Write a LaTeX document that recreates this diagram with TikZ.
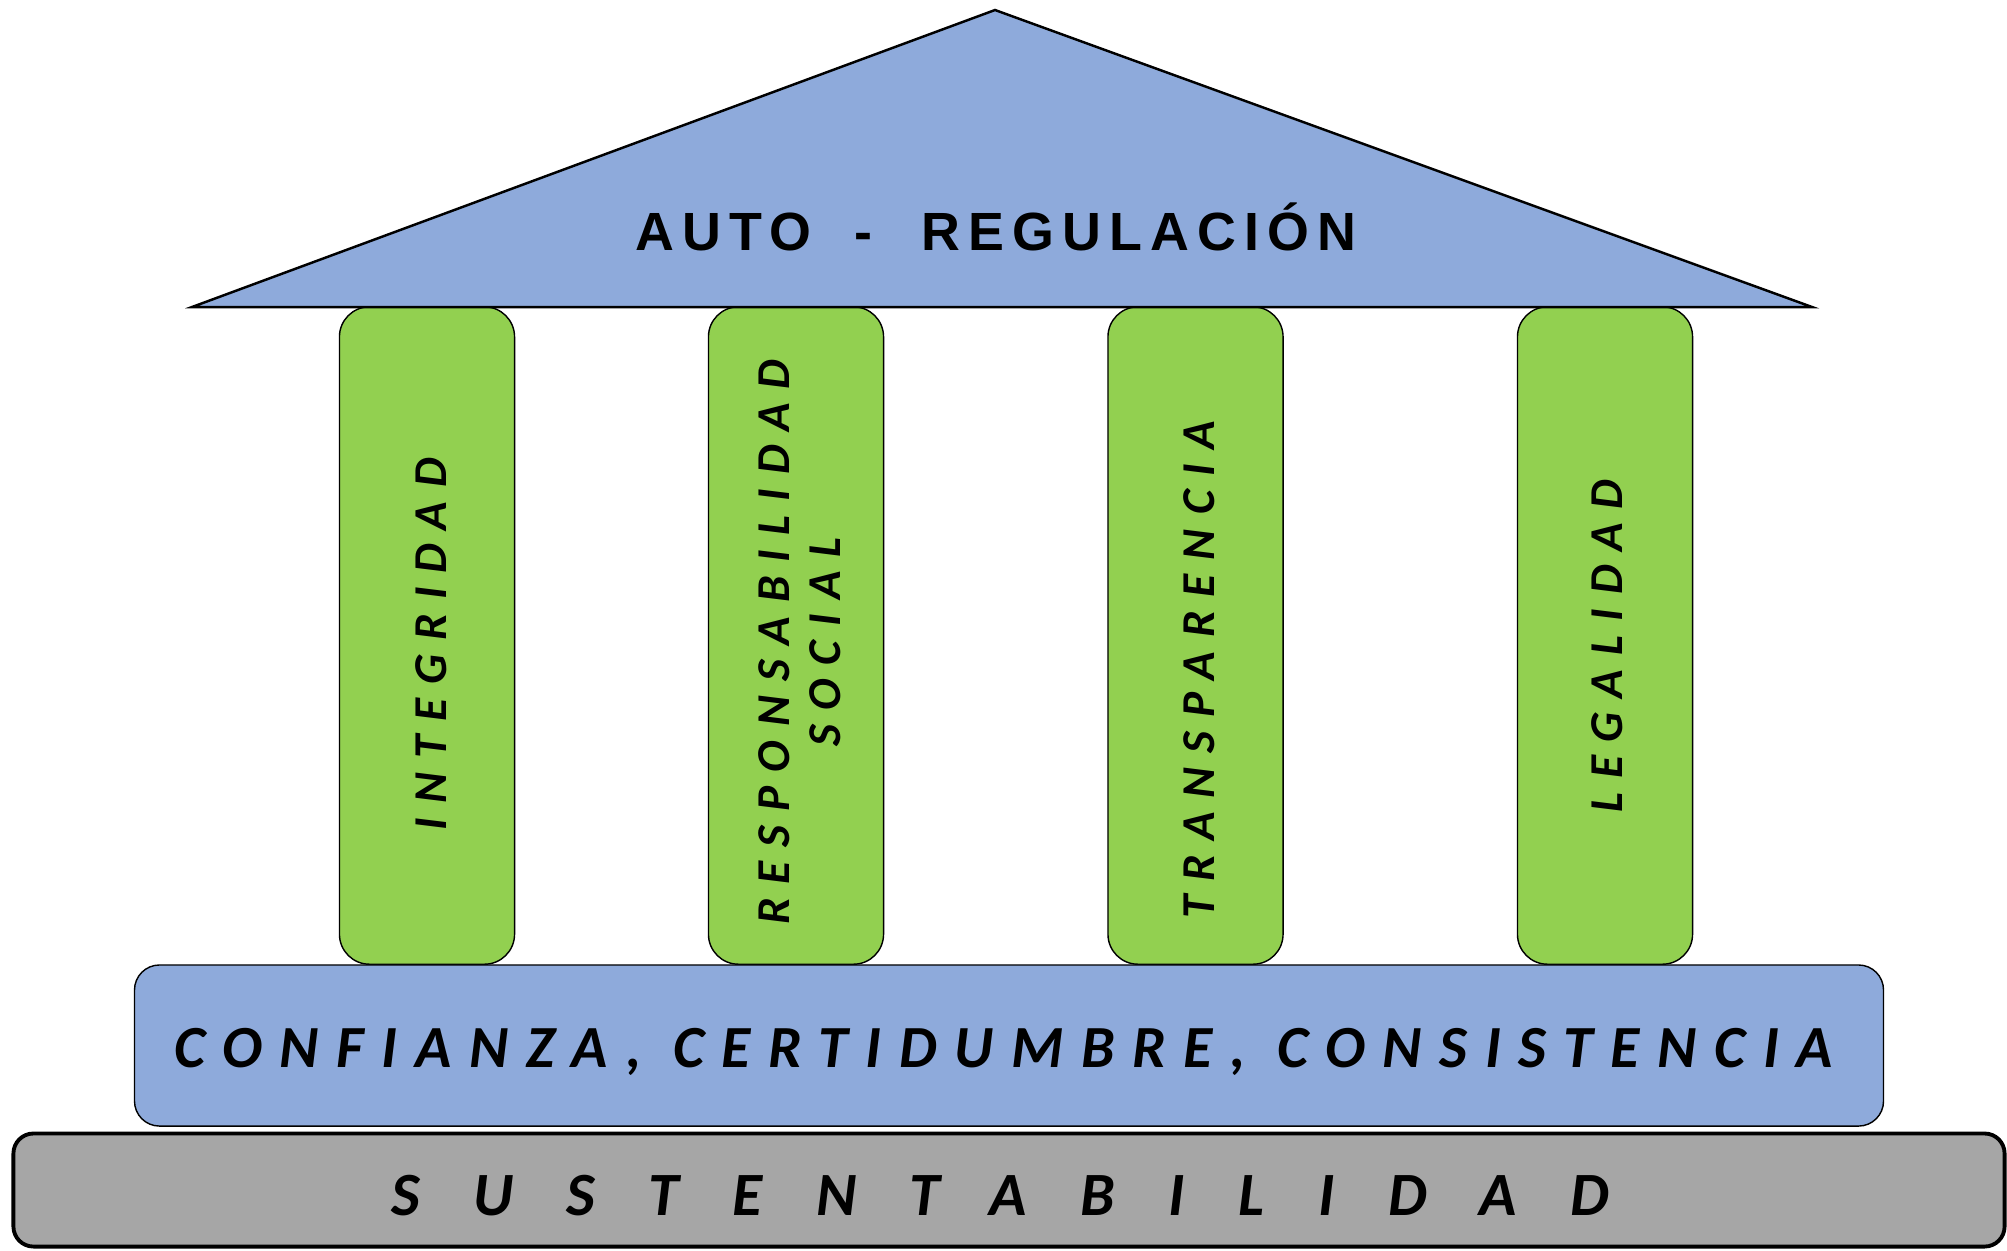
\documentclass[tikz,border=0pt]{standalone}
\usepackage{fontspec}
\setmainfont{Carlito}
\newfontfamily\rooffont{Liberation Sans}
\usepackage{xcolor}
\usepackage{tikz}
\usetikzlibrary{positioning}
\definecolor{roofblue}{HTML}{8EAADB}
\definecolor{pillargreen}{HTML}{92D050}
\definecolor{groundgray}{HTML}{A6A6A6}

\tikzset{
	pillar/.style={draw, line width=0.4pt, fill=pillargreen, rounded corners=0.3cm, minimum width=1.75cm, minimum height=6.57cm, inner sep=0pt},
	pillartext/.style={rotate=90, inner sep=0pt, align=center, font=\fontsize{13.4pt}{14.6pt}\selectfont\bfseries\itshape\addfontfeature{LetterSpace=30}},
	basebox/.style={draw, line width=0.4pt, fill=roofblue, rounded corners=0.25cm, minimum width=17.48cm, minimum height=1.61cm},
	groundbox/.style={draw, line width=1.1pt, fill=groundgray, rounded corners=0.2cm, minimum width=19.9cm, minimum height=1.13cm},
	basetext/.style={inner sep=0pt, font=\fontsize{17pt}{19pt}\selectfont\bfseries\itshape\addfontfeature{LetterSpace=29.5}},
	groundtext/.style={inner sep=0pt, font=\fontsize{17.5pt}{19pt}\selectfont\bfseries\itshape\addfontfeature{LetterSpace=87}}
}

\begin{document}
\begin{tikzpicture}[x=0.01cm, y=-0.01cm]
			\useasboundingbox (0,0) rectangle (2007,1250);
			\node[pillar] at(427,635.5) (p1){};
			\node[pillar] at(796,635.5) (p2){};
			\node[pillar] at(1195.5,635.5) (p3){};
			\node[pillar] at(1605,635.5) (p4){};
			\node[pillartext] at(431,644) (integ){INTEGRIDAD};
			\node[pillartext] at(800,642) (resp){RESPONSABILIDAD\\SOCIAL};
			\node[pillartext] at(1199,670) (trans){TRANSPARENCIA};
			\node[pillartext] at(1607,646) (legal){LEGALIDAD};
			\node[basebox] at(1009,1045.5) (base){};
			\node[basetext] at(1003.5,1052) (basetxt){CONFIANZA, CERTIDUMBRE, CONSISTENCIA};
			\node[groundbox] at(1009,1190) (ground){};
			\node[groundtext] at(1000,1196) (groundtxt){SUSTENTABILIDAD};
			\draw[fill=roofblue, line width=0.7pt] (995,10) -- (1812,307) -- (192,307) -- cycle;
			\node[font=\fontsize{15.3pt}{17pt}\selectfont\rooffont\bfseries\addfontfeature{LetterSpace=15}] at(996,227) (roof){AUTO\hspace{0.8em}-\hspace{0.92em}REGULACIÓN};
		\end{tikzpicture}
\end{document}
